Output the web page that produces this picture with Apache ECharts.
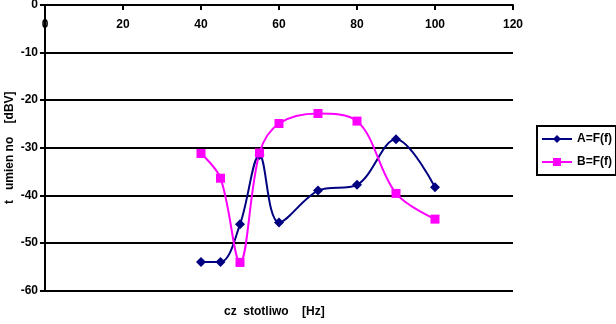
<!DOCTYPE html>
<html><head><meta charset="utf-8">
<script src="https://cdn.jsdelivr.net/npm/echarts@6/dist/echarts.min.js"></script>
<style>html,body{margin:0;padding:0;background:#fff}#c{width:616px;height:324px}</style>
</head><body><div id="c"></div>
<script>
const freq = [40, 45, 50, 55, 60, 70, 80, 90, 100];
const seriesA = [-54.0, -54.0, -46.1, -31.5, -45.7, -39.0, -37.8, -28.2, -38.3];
const seriesB = [-31.2, -36.4, -54.1, -31.1, -24.9, -22.8, -24.4, -39.6, -45.0];
const nameA = 'A=F(f)';
const nameB = 'B=F(f)';
const yTitle = 't   umien no    [dBV]';
const xTitle = 'cz  stotliwo    [Hz]';

const chart = echarts.init(document.getElementById('c'), null, {renderer: 'canvas'});
const font = {fontFamily: 'Liberation Sans, Arial, sans-serif', fontWeight: 'bold', fontSize: 12, color: '#000'};
chart.setOption({
  animation: false,
  backgroundColor: '#fff',
  grid: {left: 45, top: 5, width: 468, height: 285.5, containLabel: false, outerBoundsMode: 'none'},
  xAxis: [{
    type: 'value', position: 'top', min: 0, max: 120, interval: 20,
    axisLine: {onZero: false, lineStyle: {color: '#000', width: 2}},
    axisTick: {inside: true, length: 5, lineStyle: {color: '#000', width: 2}},
    axisLabel: {show: false},
    splitLine: {show: false}
  }, {
    type: 'value', position: 'top', offset: -30, min: 0, max: 120, interval: 20,
    axisLine: {show: false, onZero: false},
    axisTick: {show: false},
    axisLabel: Object.assign({margin: 4}, font),
    splitLine: {show: false}
  }],
  yAxis: {
    type: 'value', min: -60, max: 0, interval: 10,
    name: yTitle, nameLocation: 'middle', nameRotate: 90, nameGap: 29,
    nameMoveOverlap: false,
    nameTextStyle: font,
    axisLine: {onZero: false, lineStyle: {color: '#000', width: 2}},
    axisTick: {length: 5, lineStyle: {color: '#000', width: 2}},
    axisLabel: Object.assign({margin: 7}, font),
    splitLine: {show: true, lineStyle: {color: '#000', width: 2}}
  },
  legend: {
    orient: 'vertical', left: 537, top: 126, width: 78,
    backgroundColor: '#fff', borderColor: '#000', borderWidth: 2,
    padding: [7, 4, 7, 4], itemGap: 11, itemWidth: 30, itemHeight: 10,
    textStyle: font,
    data: [nameA, nameB]
  },
  graphic: [{
    type: 'text', left: 224, top: 306,
    style: {text: xTitle, font: 'bold 12px "Liberation Sans", Arial, sans-serif', fill: '#000'}
  }],
  series: [
    {name: nameA, type: 'line', smooth: 0.35, xAxisIndex: 0,
     data: freq.map((f, i) => [f, seriesA[i]]),
     symbol: 'diamond', symbolSize: 10,
     lineStyle: {color: '#000080', width: 2}, itemStyle: {color: '#000080'}},
    {name: nameB, type: 'line', smooth: 0.35, xAxisIndex: 0,
     data: freq.map((f, i) => [f, seriesB[i]]),
     symbol: 'rect', symbolSize: 9,
     lineStyle: {color: '#FF00FF', width: 2}, itemStyle: {color: '#FF00FF'}}
  ]
});
</script></body></html>
